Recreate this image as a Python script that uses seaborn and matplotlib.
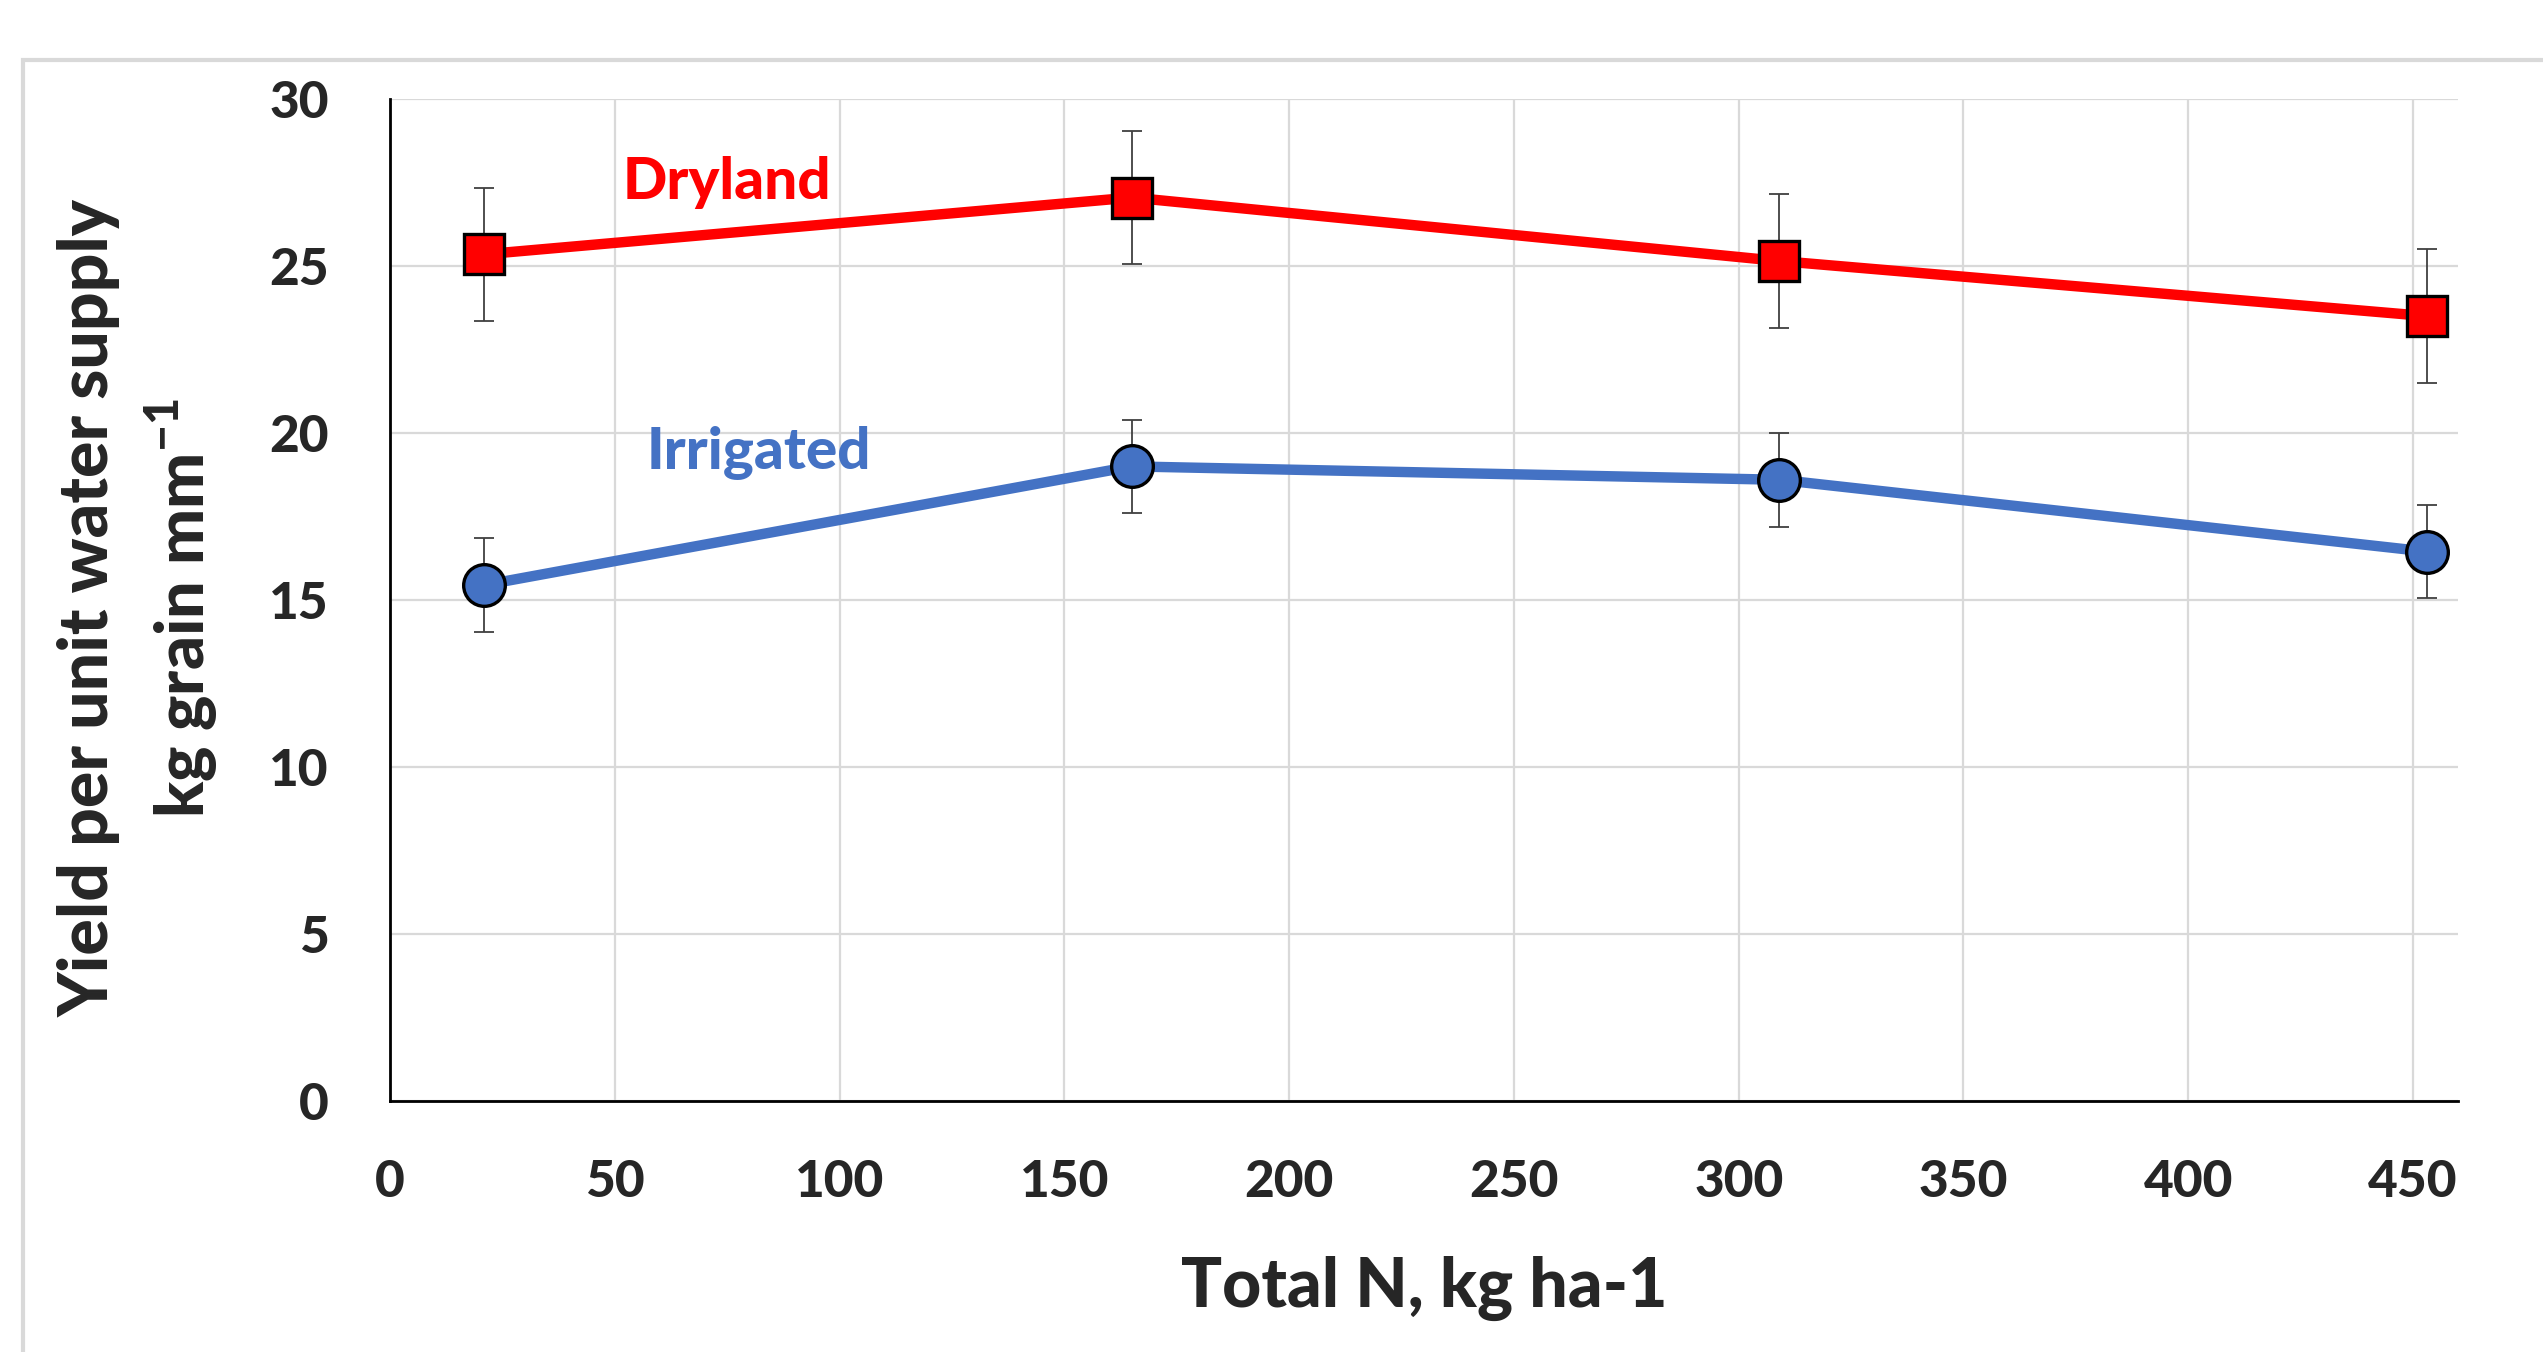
import matplotlib
matplotlib.use("Agg")
import matplotlib.pyplot as plt
import seaborn as sns
import pandas as pd
from matplotlib.ticker import MultipleLocator
from matplotlib.patches import Rectangle

# ---- data ----
total_n = [21, 165, 309, 453]
dryland = [25.35, 27.05, 25.15, 23.5]
dryland_err = [2.0, 2.0, 2.0, 2.0]
irrigated = [15.45, 19.0, 18.6, 16.45]
irrigated_err = [1.4, 1.4, 1.4, 1.4]
x_ticks = [0, 50, 100, 150, 200, 250, 300, 350, 400, 450]
y_ticks = [0, 5, 10, 15, 20, 25, 30]

sns.set_style("white")
plt.rcParams['font.family'] = ['Lato', 'DejaVu Sans']
plt.rcParams['font.weight'] = 'black'
plt.rcParams['mathtext.fontset'] = 'custom'
plt.rcParams['mathtext.rm'] = 'Lato'
plt.rcParams['mathtext.bf'] = 'Lato:bold'

W = 'black'
RED = "#FF0000"
BLUE = "#4472C4"

fig = plt.figure(figsize=(25.43, 13.52), dpi=100)
ax = fig.add_axes([390/2543, 1-1101/1352, (2458-390)/2543, (1101-99)/1352])

# outer frame
fig.patches.append(Rectangle((23/2543, -0.1), 1.2, 1.1-60/1352, transform=fig.transFigure,
                             fill=False, edgecolor="#d9d9d9", linewidth=3, zorder=0))

df = pd.DataFrame({
    "N": total_n * 2,
    "val": dryland + irrigated,
    "series": ["Dryland"] * 4 + ["Irrigated"] * 4,
})

ax.errorbar(total_n, dryland, yerr=dryland_err, fmt='none', ecolor="#404040",
            elinewidth=1.3, capsize=7, capthick=1.3, zorder=2)
ax.errorbar(total_n, irrigated, yerr=irrigated_err, fmt='none', ecolor="#404040",
            elinewidth=1.3, capsize=7, capthick=1.3, zorder=2)

sns.lineplot(data=df[df.series == "Dryland"], x="N", y="val", ax=ax, color=RED,
             linewidth=7.5, marker="s", markersize=29, markerfacecolor=RED,
             markeredgecolor="black", markeredgewidth=2.4, zorder=3, legend=False)
sns.lineplot(data=df[df.series == "Irrigated"], x="N", y="val", ax=ax, color=BLUE,
             linewidth=7.5, marker="o", markersize=30, markerfacecolor=BLUE,
             markeredgecolor="black", markeredgewidth=2.4, zorder=3, legend=False)

ax.set_xlim(0, 460)
ax.set_ylim(0, 30)
ax.set_xticks(x_ticks)
ax.set_yticks(y_ticks)
ax.xaxis.set_minor_locator(MultipleLocator(25))
ax.yaxis.set_minor_locator(MultipleLocator(1))
ax.grid(True, which='major', color="#d9d9d9", linewidth=1.6)
ax.set_axisbelow(True)

for s in ["top", "right"]:
    ax.spines[s].set_visible(False)
for s in ["left", "bottom"]:
    ax.spines[s].set_color("black")
    ax.spines[s].set_linewidth(2)

ax.tick_params(axis='x', which='major', direction='out', length=14, width=1.5,
               color='black', pad=28, labelsize=37)
ax.tick_params(axis='x', which='minor', direction='out', length=9, width=1.5, color='black')
ax.tick_params(axis='y', which='major', direction='out', length=16, width=1.5,
               color='black', pad=28, labelsize=37)
ax.tick_params(axis='y', which='minor', direction='out', length=13, width=1.5, color='black')
for lab in ax.get_xticklabels() + ax.get_yticklabels():
    lab.set_fontweight(W)

ax.set_xlabel("Total N, kg ha-1", fontsize=49, fontweight=W, labelpad=36)
ax.set_ylabel("")

fig.text(89/2543, 1-608/1352, "Yield per unit water supply", rotation=90,
         ha='center', va='center', fontsize=49, fontweight=W)
fig.text(182/2543, 1-608/1352, r"kg grain mm$^{\mathregular{-1}}$", rotation=90,
         ha='center', va='center', fontsize=48, fontweight=W)

ax.text(75, 27.5, "Dryland", color=RED, fontsize=42, fontweight=W,
        ha='center', va='center')
ax.text(82, 19.4, "Irrigated", color=BLUE, fontsize=42, fontweight=W,
        ha='center', va='center')

fig.savefig("out.png", dpi=100)
